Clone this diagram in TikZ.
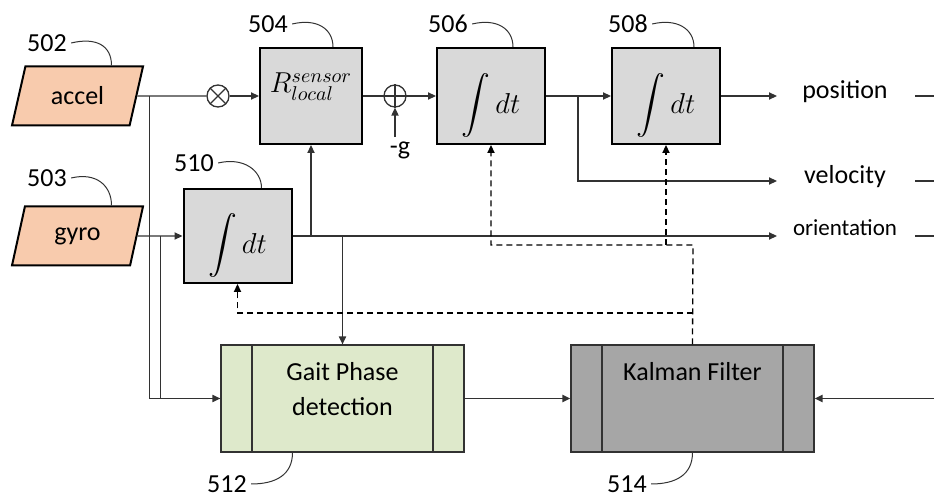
\documentclass[tikz,border=0pt]{standalone}
\usepackage{fontspec}
\setmainfont{Carlito}
\usepackage{amsmath}
\usetikzlibrary{arrows.meta, shapes.geometric, calc}

\definecolor{peach}{RGB}{248,203,173}
\definecolor{boxgray}{RGB}{217,217,217}
\definecolor{gaitgreen}{RGB}{222,233,203}
\definecolor{kalmangray}{RGB}{166,166,166}
\definecolor{linegray}{RGB}{50,50,50}

\tikzset{
  conn/.style={draw=linegray, line width=0.65pt},
  arr/.style={conn, -{Triangle[length=4pt, width=3.6pt]}},
  fbarr/.style={arr, draw=black, dash pattern=on 3pt off 2pt},
  inbox/.style={trapezium, trapezium left angle=67, trapezium right angle=113,
    trapezium stretches body, draw, line width=1pt, fill=peach,
    minimum width=65.5pt, minimum height=29.5pt, font=\fontsize{13}{15}\selectfont},
  blockbox/.style={draw, line width=1pt, fill=boxgray, minimum width=54pt,
    minimum height=48pt, inner sep=0pt},
  intbox/.style={blockbox,
    label={[yshift=-5pt, font=\fontsize{13.5}{16}\selectfont]center:$\displaystyle\int dt$}},
  procbox/.style={draw=linegray, line width=0.6pt, minimum width=121.5pt,
    minimum height=53.5pt, inner sep=0pt,
    path picture={\draw[linegray, line width=0.6pt]
      ([xshift=15.5pt]path picture bounding box.north west) -- ([xshift=15.5pt]path picture bounding box.south west)
      ([xshift=-15.5pt]path picture bounding box.north east) -- ([xshift=-15.5pt]path picture bounding box.south east);}},
  sumnode/.style={circle, conn, minimum size=11pt, inner sep=0pt},
  refnum/.style={inner sep=2pt, font=\fontsize{13}{15}\selectfont},
  lead/.style={draw=linegray, line width=0.5pt},
  outlbl/.style={font=\fontsize{13}{15}\selectfont},
}

\begin{document}
\begin{tikzpicture}[x=0.5pt, y=-0.5pt]
\useasboundingbox (0,0) rectangle (934,497);

% sensors
\node[inbox] (accel) at (77.5,96) {accel};
\node[inbox] (gyro) at (77.5,236) {gyro};

% blocks
\node[blockbox, minimum width=51pt,
  label={[yshift=4.5pt, font=\fontsize{14}{16}\selectfont]center:$R^{sensor}_{local}$}] (b504) at (311,96) {};
\node[intbox] (b506) at (491,96) {};
\node[intbox] (b508) at (666,96) {};
\node[intbox, minimum height=47pt] (b510) at (237.5,236) {};

% junctions
\node[sumnode] (mul) at (218,96) {};
\node[sumnode] (sum) at (395,96) {};
\draw[conn] (mul.north west) -- (mul.south east) (mul.north east) -- (mul.south west);
\draw[conn] (sum.north) -- (sum.south) (sum.west) -- (sum.east);
\node[refnum] (g) at (400,150) {-g};

% processing
\node[procbox, fill=gaitgreen,
  label={[align=center, yshift=4.5pt, font=\fontsize{13}{17.5}\selectfont]center:Gait Phase\\detection}] (gait) at (342.5,398.5) {};
\node[procbox, fill=kalmangray,
  label={[yshift=13.25pt, font=\fontsize{13}{15}\selectfont]center:Kalman Filter}] (kalman) at (692.5,398.5) {};

% outputs
\node[outlbl] (pos) at (845,92) {position};
\node[outlbl] (vel) at (845,177) {velocity};
\node[outlbl, font=\fontsize{11.5}{14}\selectfont] (ori) at (845,228) {orientation};

\coordinate (posin) at (777,96);
\coordinate (velin) at (777,181);
\coordinate (oriin) at (777,236);
\coordinate (edge) at (934,0);
\coordinate (fbA) at (693,245);
\coordinate (fbB) at (693,313);

% signal path
\draw[conn] (accel.east) -- (mul.west);
\draw[arr] (mul.east) -- (b504.west);
\draw[conn] (b504.east) -- (sum.west);
\draw[arr] (sum.east) -- (b506.west);
\draw[arr] (g.north -| sum.south) -- (sum.south);
\draw[arr] (b506.east) -- (b508.west);
\draw[arr] (b508.east) -- (posin);
\draw[arr] ([xshift=16pt]b506.east) |- (velin);
\draw[arr] (gyro.east) -- (b510.west);
\draw[arr] (b510.east) -- (oriin);
\draw[arr] (b504.south |- b510.east) -- (b504.south);
\draw[arr] (b510.east -| gait.north) -- (gait.north);
\draw[conn] ([xshift=-28.5pt]mul.west) |- (gait.west);
\draw[arr] ([xshift=-11pt]b510.west) |- (gait.west);
\draw[arr, line width=0.9pt] (gait.east) -- (kalman.west);
\draw[arr, line width=0.9pt] (edge |- kalman.east) -- (kalman.east);

% cut-off lines at the right
\draw[conn] ([xshift=-9.5pt]edge |- posin) -- (edge |- posin);
\draw[conn] ([xshift=-9.5pt]edge |- velin) -- (edge |- velin);
\draw[conn] ([xshift=-9.5pt]edge |- oriin) -- (edge |- oriin);

% feedback
\draw[fbarr] (kalman.north) -- (fbA) -| (b506.south);
\draw[fbarr] (b508.south |- fbA) -- (b508.south);
\draw[fbarr] (fbB) -| (b510.south);

% reference numbers
\node[refnum] (l502) at (47,43) {502};
\node[refnum] (l503) at (47,178) {503};
\node[refnum] (l504) at (268,24) {504};
\node[refnum] (l506) at (448,24) {506};
\node[refnum] (l508) at (628,24) {508};
\node[refnum] (l510) at (194,163) {510};
\node[refnum] (l512) at (227,484) {512};
\node[refnum] (l514) at (627,484) {514};
\draw[lead] (l502.east) .. controls +(25,-6) and +(0,-20) .. ([xshift=17pt]accel.north);
\draw[lead] (l503.east) .. controls +(25,-6) and +(0,-20) .. ([xshift=17pt]gyro.north);
\draw[lead] (l504.east) .. controls +(25,-6) and +(0,-18) .. ([xshift=11pt]b504.north);
\draw[lead] (l506.east) .. controls +(25,-6) and +(0,-18) .. ([xshift=11pt]b506.north);
\draw[lead] (l508.east) .. controls +(25,-6) and +(0,-18) .. ([xshift=14pt]b508.north);
\draw[lead] (l510.east) .. controls +(25,-6) and +(0,-18) .. ([xshift=12pt]b510.north);
\draw[lead] (l512.east) .. controls +(25,0) and +(0,22) .. ([xshift=-25pt]gait.south);
\draw[lead] (l514.east) .. controls +(25,0) and +(0,22) .. (kalman.south);
\end{tikzpicture}
\end{document}
